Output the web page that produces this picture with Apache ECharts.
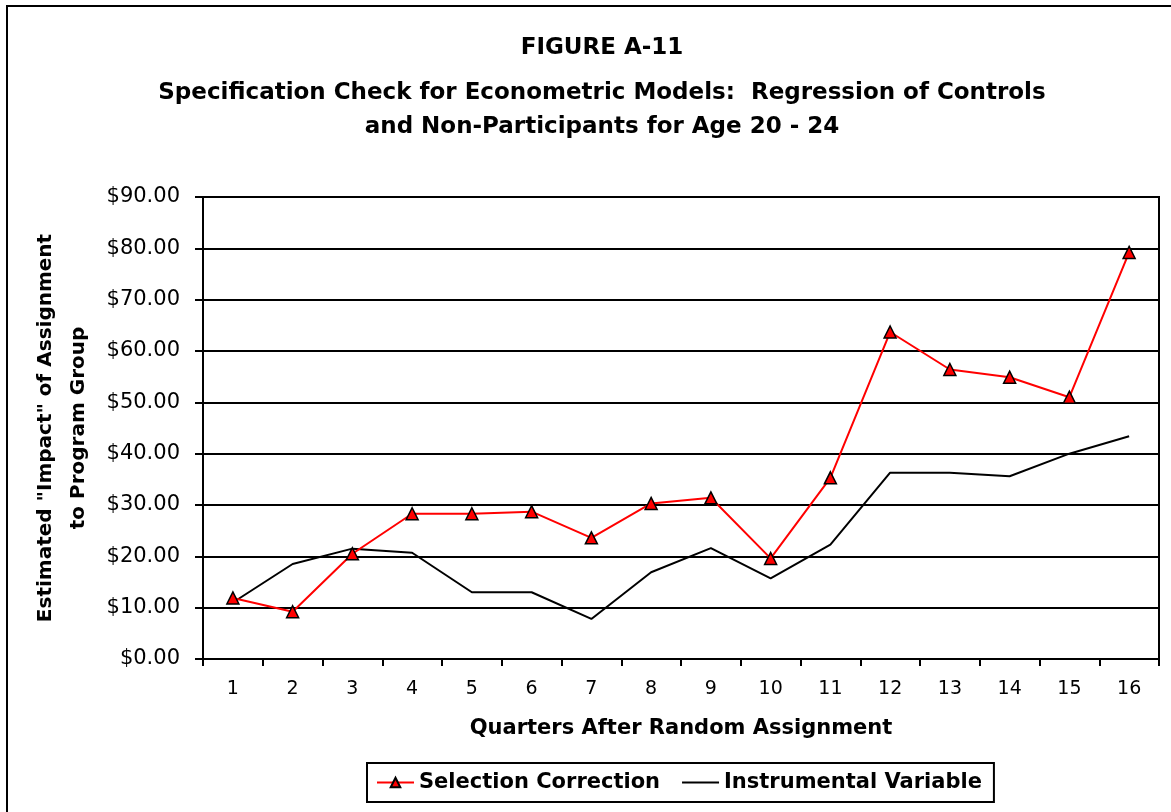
<!DOCTYPE html>
<html>
<head>
    <meta charset="utf-8">
    <title>Figure A-11</title>
    <script src="https://cdn.jsdelivr.net/npm/echarts@6/dist/echarts.min.js"></script>
    <style>
        html, body { margin: 0; padding: 0; background: #fff; }
        #chart { width: 1171px; height: 812px; }
    </style>
</head>
<body>
    <div id="chart"></div>
    <script type="text/javascript">
        // data
        const quarters = ['1', '2', '3', '4', '5', '6', '7', '8', '9', '10', '11', '12', '13', '14', '15', '16'];
        const selectionCorrection = [11.9, 9.2, 20.5, 28.3, 28.3, 28.7, 23.6, 30.3, 31.4, 19.6, 35.3, 63.7, 56.4, 54.9, 51.0, 79.2];
        const instrumentalVariable = [11.0, 18.5, 21.5, 20.7, 13.0, 13.0, 7.8, 16.9, 21.6, 15.7, 22.3, 36.3, 36.3, 35.6, 40.0, 43.4];

        // the original text is a stretched Arial, DejaVu Sans is close in width
        const font = "'DejaVu Sans', sans-serif";
        const chart = echarts.init(document.getElementById('chart'));

        const option = {
            backgroundColor: '#fff',
            animation: false,
            textStyle: { fontFamily: font, color: '#000' },
            graphic: [{
                // outer chart border (only left/top fall inside the picture)
                type: 'rect',
                shape: { x: 7, y: 6, width: 1400, height: 1000 },
                style: { fill: null, stroke: '#000', lineWidth: 2 },
                silent: true
            }],
            title: [{
                text: 'FIGURE A-11',
                left: 597,
                top: 32,
                textAlign: 'center',
                textStyle: { fontFamily: font, fontSize: 23, fontWeight: 'bold', color: '#000' }
            }, {
                text: 'Specification Check for Econometric Models:  Regression of Controls\nand Non-Participants for Age 20 - 24',
                left: 597,
                top: 71,
                textAlign: 'center',
                textStyle: { fontFamily: font, fontSize: 23, fontWeight: 'bold', color: '#000', lineHeight: 34 }
            }],
            legend: {
                left: 367,
                top: 763,
                itemWidth: 37,
                itemHeight: 12,
                itemGap: 21,
                padding: [9, 12, 9, 9],
                borderColor: '#000',
                borderWidth: 2,
                textStyle: { fontFamily: font, fontSize: 21, fontWeight: 'bold', color: '#000' },
                data: [
                    { name: 'Selection Correction' },
                    { name: 'Instrumental Variable', itemStyle: { color: 'transparent', borderWidth: 0 } }
                ]
            },
            grid: {
                left: 203,
                right: 12,
                top: 197,
                bottom: 153,
                show: true,
                borderColor: '#000',
                borderWidth: 2,
                containLabel: false
            },
            xAxis: {
                type: 'category',
                data: quarters,
                boundaryGap: true,
                name: 'Quarters After Random Assignment',
                nameLocation: 'middle',
                nameGap: 59,
                nameTextStyle: { fontFamily: font, fontSize: 21, fontWeight: 'bold', color: '#000' },
                axisLine: { lineStyle: { color: '#000', width: 2 } },
                axisTick: { show: true, length: 7, lineStyle: { color: '#000', width: 2 } },
                axisLabel: { fontFamily: font, fontSize: 19, color: '#000', margin: 21 }
            },
            yAxis: {
                type: 'value',
                min: 0,
                max: 90,
                interval: 10,
                name: 'Estimated "Impact" of Assignment\nto Program Group',
                nameLocation: 'middle',
                nameRotate: 90,
                nameGap: 107,
                nameTextStyle: { fontFamily: font, fontSize: 20, fontWeight: 'bold', color: '#000', lineHeight: 33 },
                axisLine: { show: true, lineStyle: { color: '#000', width: 2 } },
                axisTick: { show: true, length: 8, lineStyle: { color: '#000', width: 2 } },
                axisLabel: {
                    fontFamily: font, fontSize: 21, color: '#000', margin: 23,
                    formatter: function (v) { return '$' + v.toFixed(2); }
                },
                splitLine: { show: true, lineStyle: { color: '#000', width: 2 } }
            },
            series: [{
                name: 'Selection Correction',
                type: 'line',
                data: selectionCorrection,
                symbol: 'triangle',
                symbolSize: 12,
                showAllSymbol: true,
                lineStyle: { color: '#ff0000', width: 2 },
                itemStyle: { color: '#ff0000', borderColor: '#000', borderWidth: 1.5 },
                z: 3
            }, {
                name: 'Instrumental Variable',
                type: 'line',
                data: instrumentalVariable,
                symbol: 'none',
                lineStyle: { color: '#000', width: 2 },
                itemStyle: { color: '#000' },
                z: 2
            }]
        };

        chart.setOption(option);
    </script>
</body>
</html>
